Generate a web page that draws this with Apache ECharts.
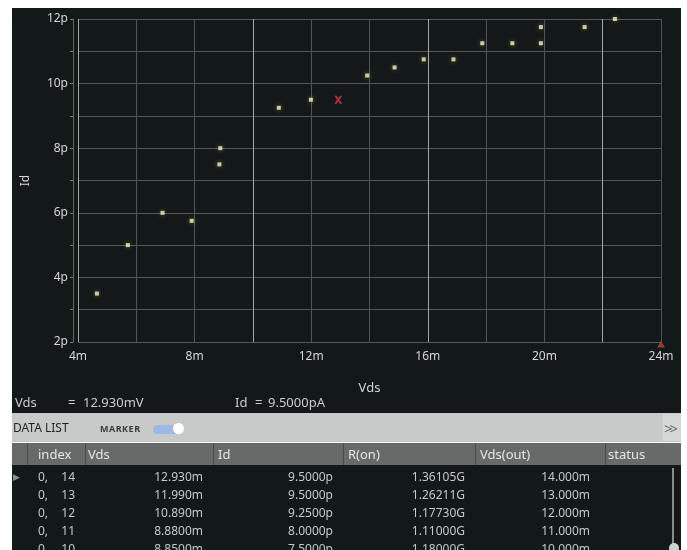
<!DOCTYPE html>
<html>
<head>
<meta charset="utf-8">
<script src="https://cdn.jsdelivr.net/npm/echarts@6/dist/echarts.min.js"></script>
<style>
  html, body { margin:0; padding:0; background:#ffffff; width:687px; height:550px; overflow:hidden; font-family:"Noto Sans", "DejaVu Sans", sans-serif; }
  #chart { position:absolute; left:12px; top:8px; width:669px; height:405px; background:#131919; }
  .abs { position:absolute; white-space:nowrap; }
  .ro { color:#c9cccc; font-size:13px; line-height:16px; top:394px; }
  #band { position:absolute; left:12px; top:413px; width:669px; height:29px; background:#c8c9c9; }
  #head { position:absolute; left:12px; top:443px; width:669px; height:22px; background:#686a6a; }
  #rows { position:absolute; left:12px; top:465px; width:669px; height:85px; background:#131919; }
  .hd { color:#e4e6e6; font-size:13px; line-height:22px; top:443px; }
  .div { position:absolute; top:443px; width:1px; height:22px; background:#4a4c4c; }
  .cell { color:#c4c8c8; font-size:12px; line-height:14px; }
  .r { text-align:right; }
</style>
</head>
<body>
<div id="chart"></div>

<div class="abs ro" style="left:15px;">Vds</div>
<div class="abs ro" style="left:68px;">=</div>
<div class="abs ro" style="left:83px;">12.930mV</div>
<div class="abs ro" style="left:235px;">Id</div>
<div class="abs ro" style="left:255px;">=</div>
<div class="abs ro" style="left:268px;">9.5000pA</div>

<div id="band"></div>
<div class="abs" style="left:13px;top:420px;font-size:12px;line-height:16px;color:#1e2222;">DATA LIST</div>
<div class="abs" style="left:100px;top:422px;font-size:9px;line-height:13px;color:#3a3e3e;font-weight:bold;letter-spacing:0.5px;">MARKER</div>
<div class="abs" style="left:153px;top:425px;width:26px;height:9px;border-radius:5px;background:#9cb9e6;"></div>
<div class="abs" style="left:173px;top:423px;width:11px;height:11px;border-radius:6px;background:#ffffff;"></div>
<div class="abs" style="left:663px;top:414px;width:18px;height:27px;background:#d6d7d7;"></div>
<div class="abs" style="left:664px;top:418px;font-size:15px;line-height:20px;color:#6a6e6e;letter-spacing:-3px;">&gt;&gt;</div>

<div id="head"></div>
<div id="rows"></div>
<div id="table"></div>

<script>
// ---- data ----
const vdsValues = [4.65, 5.71, 6.90, 7.90, 8.85, 8.88, 10.89, 11.99, 13.92, 14.86, 15.86, 16.88, 17.87, 18.90, 19.88, 19.88, 21.38, 22.42];
const idValues  = [3.50, 5.00, 6.00, 5.75, 7.50, 8.00, 9.25, 9.50, 10.25, 10.50, 10.75, 10.75, 11.25, 11.25, 11.25, 11.75, 11.75, 12.00];
const markerPoint = [12.93, 9.5];
const axisEndMarker = [24, 2];
const xTickLabels = [4, 8, 12, 16, 20, 24];
const yTickLabels = [2, 4, 6, 8, 10, 12];

const tableHeaders = ["index", "Vds", "Id", "R(on)", "Vds(out)", "status"];
const rowIndex = ["14", "13", "12", "11", "10"];
const rowVds   = ["12.930m", "11.990m", "10.890m", "8.8800m", "8.8500m"];
const rowId    = ["9.5000p", "9.5000p", "9.2500p", "8.0000p", "7.5000p"];
const rowRon   = ["1.36105G", "1.26211G", "1.17730G", "1.11000G", "1.18000G"];
const rowVout  = ["14.000m", "13.000m", "12.000m", "11.000m", "10.000m"];

// ---- table (HTML) ----
(function buildTable(){
  const root = document.getElementById('table');
  const divX = [27, 85, 213, 343, 475, 605];
  const hdX  = [38, 88, 218, 348, 480, 608];
  let html = '';
  divX.forEach(x => { html += `<div class="div" style="left:${x}px;"></div>`; });
  tableHeaders.forEach((h, i) => { html += `<div class="abs hd" style="left:${hdX[i]}px;">${h}</div>`; });
  const rowTop0 = 470, rowStep = 18;
  rowIndex.forEach((idx, r) => {
    const t = rowTop0 + r * rowStep;
    if (r === 0) html += `<div class="abs cell" style="left:13px;top:${t}px;color:#8a8e8e;font-size:9px;">&#9654;</div>`;
    html += `<div class="abs cell" style="left:38px;top:${t}px;">0,</div>`;
    html += `<div class="abs cell r" style="left:55px;width:20px;top:${t}px;">${idx}</div>`;
    html += `<div class="abs cell r" style="left:100px;width:103px;top:${t}px;">${rowVds[r]}</div>`;
    html += `<div class="abs cell r" style="left:230px;width:103px;top:${t}px;">${rowId[r]}</div>`;
    html += `<div class="abs cell r" style="left:360px;width:105px;top:${t}px;">${rowRon[r]}</div>`;
    html += `<div class="abs cell r" style="left:490px;width:100px;top:${t}px;">${rowVout[r]}</div>`;
  });
  html += `<div class="abs" style="left:672px;top:468px;width:2px;height:82px;background:#8a8e8e;"></div>`;
  html += `<div class="abs" style="left:669px;top:543px;width:10px;height:10px;border-radius:5px;background:#d0d2d2;"></div>`;
  root.innerHTML = html;
})();

// ---- chart ----
const chart = echarts.init(document.getElementById('chart'), null, { renderer: 'canvas' });
const pts = vdsValues.map((v, i) => [v, idValues[i]]);

chart.setOption({
  backgroundColor: '#131919',
  animation: false,
  grid: { left: 61, top: 11, width: 588, height: 323, containLabel: false },
  xAxis: {
    type: 'value', min: 4, max: 24, interval: 2,
    name: 'Vds', nameLocation: 'middle', nameGap: 40,
    nameTextStyle: { color: '#d4d6d6', fontSize: 13, fontFamily: 'Noto Sans' },
    axisLine: { show: false },
    axisTick: { show: false },
    axisLabel: {
      color: '#d4d6d6', fontSize: 12, fontFamily: 'Noto Sans', margin: 9,
      formatter: v => xTickLabels.indexOf(v) >= 0 ? v + 'm' : ''
    },
    splitLine: { show: true, lineStyle: { color: ['#a3a6a6', '#4f5555', '#4f5555'], width: 1 } }
  },
  yAxis: {
    type: 'value', min: 2, max: 12, interval: 1, offset: 5,
    name: 'Id', nameLocation: 'middle', nameGap: 41,
    nameTextStyle: { color: '#d4d6d6', fontSize: 12, fontFamily: 'Noto Sans' },
    axisLine: { show: true, lineStyle: { color: '#5f6a58', width: 1 } },
    axisTick: { show: true, length: 3, lineStyle: { color: '#7a807a' } },
    axisLabel: {
      color: '#d4d6d6', fontSize: 12, fontFamily: 'Noto Sans', margin: 5,
      formatter: v => yTickLabels.indexOf(v) >= 0 ? v + 'p' : ''
    },
    splitLine: { show: true, lineStyle: { color: '#535959', width: 1 } }
  },
  series: [
    {
      type: 'scatter', data: pts, symbol: 'rect', symbolSize: 4, clip: false,
      itemStyle: { color: '#f4f4c6', shadowBlur: 5, shadowColor: 'rgba(200,210,120,0.5)' }
    },
    {
      type: 'scatter', data: [markerPoint], symbol: 'path://M0,0 L3,0 L5,3 L7,0 L10,0 L6.5,5 L10,10 L7,10 L5,7 L3,10 L0,10 L3.5,5 Z',
      symbolSize: 8, clip: false, z: 5,
      itemStyle: { color: '#d8364a' }
    },
    {
      type: 'scatter', data: [axisEndMarker], symbol: 'triangle', symbolSize: [8, 7],
      symbolOffset: [0, 2], clip: false, z: 6,
      itemStyle: { color: '#a64a3e' }
    }
  ]
});
</script>
</body>
</html>
